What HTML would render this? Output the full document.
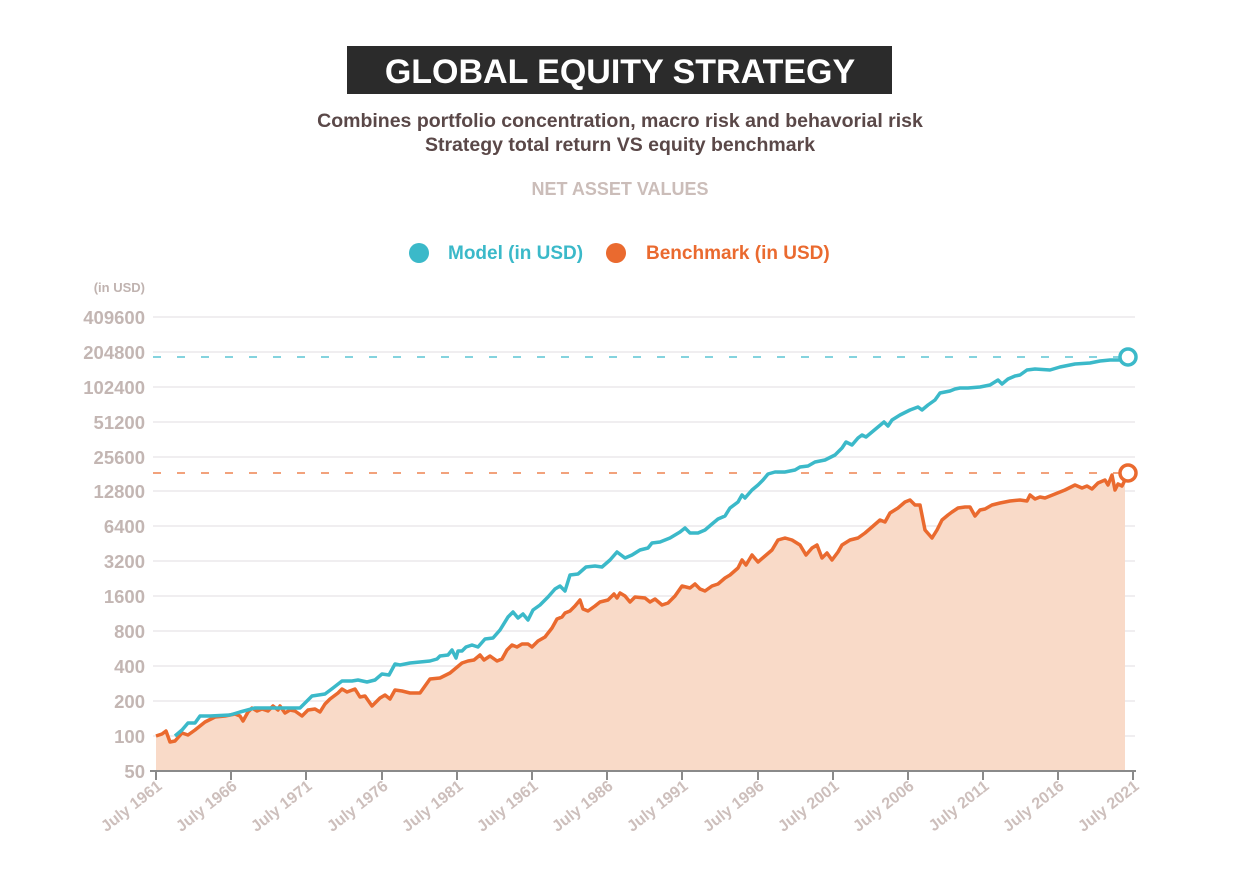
<!DOCTYPE html>
<html><head><meta charset="utf-8"><style>
body{margin:0;background:#fff;width:1240px;height:889px;overflow:hidden;font-family:"Liberation Sans",sans-serif}
</style></head><body>
<svg width="1240" height="889" xmlns="http://www.w3.org/2000/svg" font-family="Liberation Sans, sans-serif" font-weight="bold">
<rect x="347" y="46" width="545" height="48" fill="#2b2b2b"/>
<text x="620" y="83" text-anchor="middle" font-size="34" fill="#fff">GLOBAL EQUITY STRATEGY</text>
<text x="620" y="127" text-anchor="middle" font-size="19.5" fill="#5a4848">Combines portfolio concentration, macro risk and behavorial risk</text>
<text x="620" y="151" text-anchor="middle" font-size="19.5" fill="#5a4848">Strategy total return VS equity benchmark</text>
<text x="620" y="195" text-anchor="middle" font-size="18" fill="#cbbdb9">NET ASSET VALUES</text>
<circle cx="419" cy="253" r="10" fill="#3bb9c9"/>
<text x="448" y="259" font-size="19" fill="#3bb9c9">Model (in USD)</text>
<circle cx="616" cy="253" r="10" fill="#ea6a2f"/>
<text x="646" y="259" font-size="19" fill="#ea6a2f">Benchmark (in USD)</text>
<text x="145" y="292" text-anchor="end" font-size="13" fill="#c0b3b0">(in USD)</text>
<g stroke="#e6e4e8" stroke-width="1.2">
<line x1="153" x2="1135" y1="317" y2="317"/><line x1="153" x2="1135" y1="352" y2="352"/><line x1="153" x2="1135" y1="387" y2="387"/><line x1="153" x2="1135" y1="422" y2="422"/><line x1="153" x2="1135" y1="457" y2="457"/><line x1="153" x2="1135" y1="491" y2="491"/><line x1="153" x2="1135" y1="526" y2="526"/><line x1="153" x2="1135" y1="561" y2="561"/><line x1="153" x2="1135" y1="596" y2="596"/><line x1="153" x2="1135" y1="631" y2="631"/><line x1="153" x2="1135" y1="666" y2="666"/><line x1="153" x2="1135" y1="701" y2="701"/><line x1="153" x2="1135" y1="736" y2="736"/>
</g>
<g font-size="18.5" fill="#c3b6b3" text-anchor="end">
<text x="145" y="324">409600</text><text x="145" y="359">204800</text><text x="145" y="394">102400</text><text x="145" y="429">51200</text><text x="145" y="464">25600</text><text x="145" y="498">12800</text><text x="145" y="533">6400</text><text x="145" y="568">3200</text><text x="145" y="603">1600</text><text x="145" y="638">800</text><text x="145" y="673">400</text><text x="145" y="708">200</text><text x="145" y="743">100</text><text x="145" y="778">50</text>
</g>
<polygon fill="#f9dac8" points="156,771 156,736 162,734 166,731 170,742 175,741 182,733 188,735 195,730 205,722 215,717 225,716 235,714 240,716 243,721 248,712 252,708 257,711 262,709 268,711 273,706 278,710 280,706 285,713 290,710 295,711 302,716 308,710 315,709 320,712 325,704 330,699 338,693 342,689 347,692 355,689 360,697 365,696 372,706 380,698 385,695 390,699 395,690 402,691 410,693 420,693 430,679 440,678 450,673 462,663 468,661 474,660 480,655 484,660 490,656 497,661 502,659 507,650 512,645 517,647 522,644 528,644 532,647 538,641 545,637 552,628 557,619 562,617 565,613 570,611 575,606 580,600 583,609 588,611 595,606 600,602 608,600 614,594 617,598 620,593 625,596 630,602 635,597 645,598 650,602 655,599 662,605 668,603 675,596 682,586 690,588 695,584 700,589 705,591 712,586 718,584 725,578 730,575 738,568 742,560 746,565 752,555 758,562 765,556 772,550 778,540 785,538 792,540 800,545 806,555 812,548 817,545 822,558 827,553 832,560 838,552 842,545 850,540 858,538 865,533 872,527 880,520 885,522 890,513 898,508 905,502 910,500 915,505 920,505 925,530 932,538 937,530 942,520 948,515 952,512 958,508 965,507 970,507 975,516 980,510 985,509 992,505 1000,503 1010,501 1020,500 1027,501 1030,495 1035,499 1040,497 1045,498 1055,494 1065,490 1075,485 1082,488 1087,486 1092,489 1098,483 1105,480 1108,485 1112,475 1115,490 1118,484 1122,486 1125,480 1125,771"/>
<line x1="153" x2="1120" y1="357" y2="357" stroke="#3bb9c9" stroke-width="1.2" stroke-dasharray="8,16"/>
<line x1="153" x2="1120" y1="473" y2="473" stroke="#ea6a2f" stroke-width="1.2" stroke-dasharray="8,16"/>
<polyline fill="none" stroke="#ea6a2f" stroke-width="3.5" stroke-linejoin="round" points="156,736 162,734 166,731 170,742 175,741 182,733 188,735 195,730 205,722 215,717 225,716 235,714 240,716 243,721 248,712 252,708 257,711 262,709 268,711 273,706 278,710 280,706 285,713 290,710 295,711 302,716 308,710 315,709 320,712 325,704 330,699 338,693 342,689 347,692 355,689 360,697 365,696 372,706 380,698 385,695 390,699 395,690 402,691 410,693 420,693 430,679 440,678 450,673 462,663 468,661 474,660 480,655 484,660 490,656 497,661 502,659 507,650 512,645 517,647 522,644 528,644 532,647 538,641 545,637 552,628 557,619 562,617 565,613 570,611 575,606 580,600 583,609 588,611 595,606 600,602 608,600 614,594 617,598 620,593 625,596 630,602 635,597 645,598 650,602 655,599 662,605 668,603 675,596 682,586 690,588 695,584 700,589 705,591 712,586 718,584 725,578 730,575 738,568 742,560 746,565 752,555 758,562 765,556 772,550 778,540 785,538 792,540 800,545 806,555 812,548 817,545 822,558 827,553 832,560 838,552 842,545 850,540 858,538 865,533 872,527 880,520 885,522 890,513 898,508 905,502 910,500 915,505 920,505 925,530 932,538 937,530 942,520 948,515 952,512 958,508 965,507 970,507 975,516 980,510 985,509 992,505 1000,503 1010,501 1020,500 1027,501 1030,495 1035,499 1040,497 1045,498 1055,494 1065,490 1075,485 1082,488 1087,486 1092,489 1098,483 1105,480 1108,485 1112,475 1115,490 1118,484 1122,486 1125,480 1127,474"/>
<polyline fill="none" stroke="#3bb9c9" stroke-width="3.5" stroke-linejoin="round" points="175,736 182,730 188,723 195,723 200,716 210,716 230,715 240,712 255,708 280,708 300,708 312,696 325,694 333,688 342,681 352,681 358,680 367,682 375,680 382,674 389,675 395,664 400,665 410,663 430,661 437,659 440,656 448,655 452,650 456,658 458,651 462,651 466,647 472,645 478,647 485,639 493,638 500,630 508,617 513,612 518,618 523,614 528,620 533,610 540,605 548,597 555,589 560,586 565,591 570,575 578,574 586,567 595,566 602,567 610,560 617,552 625,558 632,555 640,550 648,548 652,543 660,542 670,538 680,532 685,528 690,533 698,533 705,530 712,524 718,519 725,516 730,508 738,502 742,495 745,498 752,490 758,485 763,480 768,474 775,472 785,472 795,470 800,467 808,466 815,462 825,460 835,455 842,448 846,442 852,445 858,438 862,435 866,437 872,432 878,427 884,422 888,426 892,420 900,415 910,410 918,407 922,410 928,405 935,400 940,393 950,391 955,389 960,388 968,388 980,387 990,385 998,380 1002,384 1008,379 1015,376 1020,375 1027,370 1035,369 1050,370 1060,367 1075,364 1090,363 1100,361 1110,360 1120,360 1127,357"/>
<circle cx="1128" cy="357" r="8" fill="#fff" stroke="#3bb9c9" stroke-width="3.5"/>
<circle cx="1128" cy="473" r="8" fill="#fff" stroke="#ea6a2f" stroke-width="3.5"/>
<line x1="150" x2="1136" y1="771" y2="771" stroke="#8a8a8a" stroke-width="2"/>
<g stroke="#8a8a8a" stroke-width="2">
<line x1="156" x2="156" y1="771" y2="780"/><line x1="231" x2="231" y1="771" y2="780"/><line x1="306" x2="306" y1="771" y2="780"/><line x1="382" x2="382" y1="771" y2="780"/><line x1="457" x2="457" y1="771" y2="780"/><line x1="532" x2="532" y1="771" y2="780"/><line x1="607" x2="607" y1="771" y2="780"/><line x1="682" x2="682" y1="771" y2="780"/><line x1="758" x2="758" y1="771" y2="780"/><line x1="833" x2="833" y1="771" y2="780"/><line x1="908" x2="908" y1="771" y2="780"/><line x1="983" x2="983" y1="771" y2="780"/><line x1="1058" x2="1058" y1="771" y2="780"/><line x1="1133" x2="1133" y1="771" y2="780"/>
</g>
<g font-size="16" fill="#cdbfbc" text-anchor="end">
<text transform="translate(163,788) rotate(-38)">July 1961</text>
<text transform="translate(238,788) rotate(-38)">July 1966</text>
<text transform="translate(313,788) rotate(-38)">July 1971</text>
<text transform="translate(389,788) rotate(-38)">July 1976</text>
<text transform="translate(464,788) rotate(-38)">July 1981</text>
<text transform="translate(539,788) rotate(-38)">July 1961</text>
<text transform="translate(614,788) rotate(-38)">July 1986</text>
<text transform="translate(689,788) rotate(-38)">July 1991</text>
<text transform="translate(765,788) rotate(-38)">July 1996</text>
<text transform="translate(840,788) rotate(-38)">July 2001</text>
<text transform="translate(915,788) rotate(-38)">July 2006</text>
<text transform="translate(990,788) rotate(-38)">July 2011</text>
<text transform="translate(1065,788) rotate(-38)">July 2016</text>
<text transform="translate(1140,788) rotate(-38)">July 2021</text>
</g>
</svg>
</body></html>
